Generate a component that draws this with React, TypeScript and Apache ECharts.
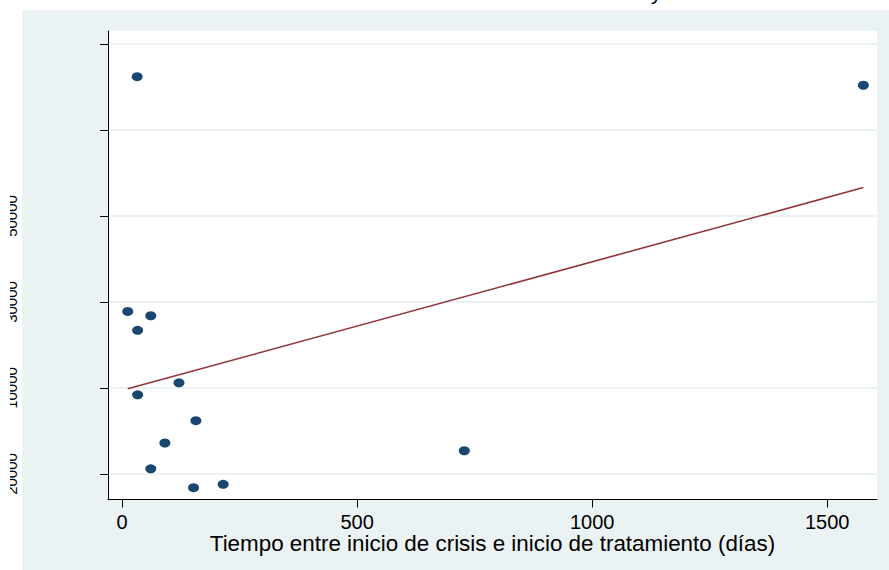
import React, { useEffect, useRef } from "react";
import * as echarts from "echarts";

// Días entre inicio de crisis e inicio de tratamiento
const X_VALUES = [32, 1577, 12, 61, 33, 121, 33, 157, 91, 728, 61, 152, 215];
// Y values expressed in y-axis tick units (tick 0 = lowest labelled tick)
const Y_VALUES = [4.62, 4.52, 1.89, 1.84, 1.67, 1.06, 0.92, 0.62, 0.36, 0.27, 0.06, -0.16, -0.12];
// Fitted values (linear fit)
const FIT_X = [12, 1577];
const FIT_Y = [0.99, 3.33];

const X_TICKS = [0, 500, 1000, 1500];
const Y_TICKS = [0, 1, 2, 3, 4, 5];
const Y_LABEL_TICKS = [0, 1, 2, 3];
const Y_TICK_LABELS = ["20000", "10000", "30000", "50000"];

const X_TITLE = "Tiempo entre inicio de crisis e inicio de tratamiento (días)";
const TOP_TITLE_FRAGMENT = "y";

const OFFSET = 10; // the chart starts 10px from the page's left edge

export default function App() {
  const ref = useRef<HTMLDivElement>(null);
  useEffect(() => {
    if (!ref.current) return;
    const chart = echarts.init(ref.current, undefined, { renderer: "svg" });
    const font = "'Liberation Sans', Arial, sans-serif";
    chart.setOption({
      animation: false,
      backgroundColor: "#EAF2F3",
      graphic: [
        { type: "rect", z: -1, shape: { x: 0, y: 0, width: 889, height: 10 }, style: { fill: "#ffffff" } },
        { type: "rect", z: -1, shape: { x: 0, y: 0, width: 22 - OFFSET, height: 570 }, style: { fill: "#ffffff" } },
        {
          type: "text",
          z: 100,
          x: 651 - OFFSET,
          y: -9,
          style: { text: TOP_TITLE_FRAGMENT, fontSize: 22, fontFamily: font, fill: "#000", verticalAlign: "middle", align: "left" },
        },
      ],
      grid: {
        left: 108 - OFFSET,
        top: 31,
        right: 12,
        bottom: 70.5,
        show: true,
        backgroundColor: "#ffffff",
        borderWidth: 0,
        outerBoundsMode: "none",
        containLabel: false,
      },
      xAxis: {
        type: "value",
        min: -30,
        max: 1606,
        name: X_TITLE,
        nameLocation: "middle",
        nameGap: 33,
        nameMoveOverlap: false,
        nameTextStyle: { fontSize: 22.4, fontFamily: font, color: "#000" },
        axisLine: { show: true, onZero: false, lineStyle: { color: "#000", width: 1 } },
        axisTick: { show: true, length: 8, customValues: X_TICKS, lineStyle: { color: "#000" } },
        axisLabel: {
          customValues: X_TICKS,
          fontSize: 20,
          fontFamily: font,
          color: "#000",
          margin: 12,
          formatter: (v: number) => String(v),
        },
        splitLine: { show: false },
      },
      yAxis: {
        type: "value",
        min: -0.297,
        max: 5.151,
        axisLine: { show: true, onZero: false, lineStyle: { color: "#000", width: 1 } },
        axisTick: { show: true, length: 8, customValues: Y_TICKS, lineStyle: { color: "#000" } },
        axisLabel: {
          customValues: Y_LABEL_TICKS,
          rotate: 90,
          margin: 89,
          fontSize: 15,
          fontFamily: font,
          color: "#000",
          formatter: (v: number) => Y_TICK_LABELS[Y_LABEL_TICKS.indexOf(Math.round(v))] ?? "",
        },
        splitLine: { show: true, lineStyle: { color: "#EAF2F3", width: 2 } },
      },
      series: [
        {
          type: "scatter",
          data: X_VALUES.map((x, i) => [x, Y_VALUES[i]]),
          symbol: "circle",
          symbolSize: [11, 9],
          itemStyle: { color: "#1a476f", opacity: 1 },
          z: 3,
        },
        {
          type: "line",
          data: FIT_X.map((x, i) => [x, FIT_Y[i]]),
          showSymbol: false,
          symbol: "none",
          lineStyle: { color: "#90353b", width: 1.6 },
          z: 2,
        },
      ],
    });
    return () => chart.dispose();
  }, []);
  return (
    <div
      ref={ref}
      style={{ position: "absolute", left: OFFSET, top: 0, width: 889 - OFFSET, height: 570, overflow: "hidden" }}
    />
  );
}
